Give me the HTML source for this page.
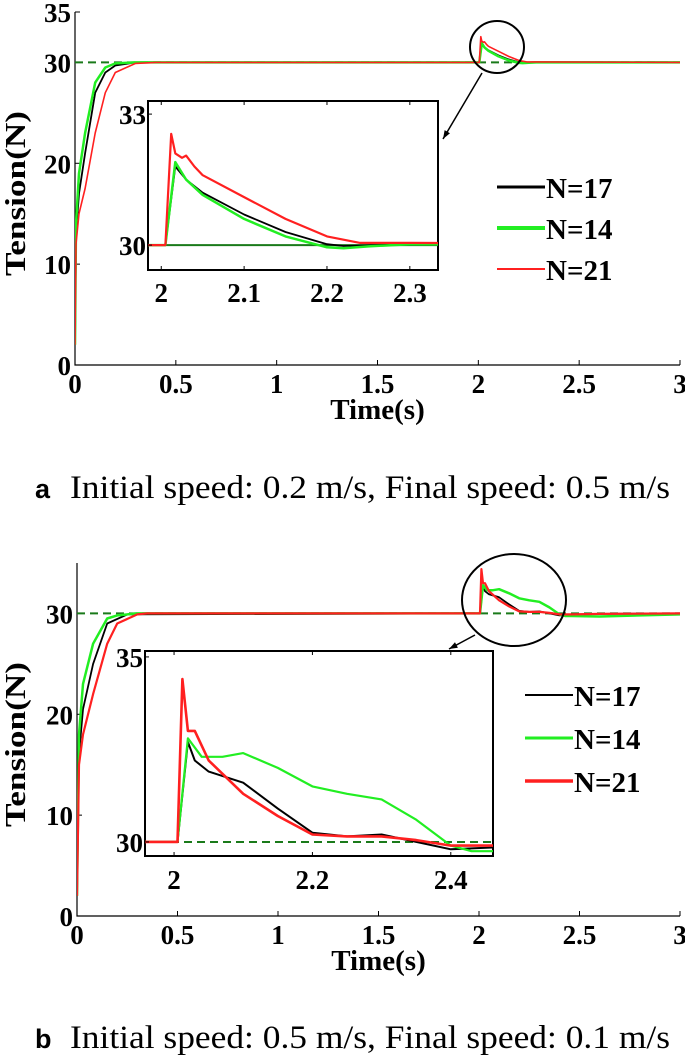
<!DOCTYPE html>
<html><head><meta charset="utf-8"><style>
body{margin:0;background:#fff;overflow:hidden}
svg{display:block}
text{font-family:"Liberation Serif",serif;fill:#000}
.tk{font-size:27px;font-weight:bold}
</style></head><body>
<svg id="s" width="685" height="1064" viewBox="0 0 685 1064" xmlns="http://www.w3.org/2000/svg">
<defs>
<clipPath id="cA"><rect x="148" y="101" width="290" height="169"/></clipPath>
<clipPath id="cB"><rect x="145" y="651" width="348" height="205"/></clipPath>
<clipPath id="mA"><rect x="75" y="0" width="606" height="366"/></clipPath>
<clipPath id="mB"><rect x="77" y="560" width="604" height="357"/></clipPath>
</defs>
<g id="root"></g>
<text x="35" y="498" style="font-family:'Liberation Sans',sans-serif;font-weight:bold;font-size:27px">a</text>
<text x="70" y="498" textLength="600" lengthAdjust="spacingAndGlyphs" style="font-size:33px">Initial speed: 0.2 m/s, Final speed: 0.5 m/s</text>
<text x="35" y="1048" style="font-family:'Liberation Sans',sans-serif;font-weight:bold;font-size:27px">b</text>
<text x="70" y="1048" textLength="600" lengthAdjust="spacingAndGlyphs" style="font-size:33px">Initial speed: 0.5 m/s, Final speed: 0.1 m/s</text>
</svg>
<script>
// ---- Panel A data ----
const aT17=[0,0.005,0.02,0.05,0.1,0.15,0.2,0.3,2.0,2.005,2.017,2.03,2.05,2.1,2.15,2.2,2.22,2.3,3];
const aV17=[2,13,17,21,27,29,29.7,30,30,30,31.8,31.5,31.2,30.7,30.3,30.02,29.98,30.02,30];
const aT14=[0,0.005,0.02,0.05,0.1,0.15,0.2,0.3,2.0,2.005,2.017,2.03,2.05,2.1,2.15,2.2,2.22,2.25,2.3,3];
const aV14=[2,14,19,23,28,29.5,29.9,30,30,30,31.9,31.5,31.15,30.6,30.2,29.95,29.93,29.97,30.02,30];
const aT21=[0,0.005,0.02,0.05,0.1,0.15,0.2,0.3,0.4,2.0,2.005,2.012,2.017,2.025,2.03,2.04,2.05,2.1,2.15,2.2,2.24,2.3,3];
const aV21=[2,12,15,17.5,23,27,29,29.9,30,30,30,32.55,32.1,32.0,32.05,31.8,31.6,31.1,30.6,30.2,30.05,30.05,30];
// ---- Panel B data ----
const bT17=[0,0.01,0.03,0.08,0.15,0.25,2.0,2.005,2.02,2.03,2.05,2.1,2.15,2.2,2.25,2.3,2.35,2.4,2.46,2.6,3];
const bV17=[2,16,20.5,25,29,29.9,30,30,32.7,32.2,31.9,31.6,30.9,30.25,30.15,30.2,30.0,29.8,29.85,29.95,30];
const bT14=[0,0.01,0.03,0.08,0.15,0.2,0.3,2.0,2.005,2.02,2.04,2.07,2.1,2.15,2.2,2.25,2.3,2.35,2.4,2.43,2.46,2.6,2.8,3];
const bV14=[2,18,23,27,29.5,29.8,30,30,30,32.8,32.3,32.3,32.4,32.0,31.5,31.3,31.15,30.6,29.9,29.75,29.75,29.7,29.8,29.9];
const bT21=[0,0.01,0.03,0.08,0.15,0.2,0.3,0.35,2.0,2.005,2.012,2.02,2.03,2.05,2.1,2.15,2.2,2.25,2.3,2.35,2.4,2.46,2.6,3];
const bV21=[2,15,18,22,27,29,29.9,30,30,30,34.4,33.0,33.0,32.2,31.3,30.7,30.2,30.15,30.15,30.05,29.9,29.9,29.95,30];
const mainXTicks=["0","0.5","1","1.5","2","2.5","3"];
const aYTicks=[0,10,20,30,35];
const bYTicks=[0,10,20,30];
const aInsetX=["2","2.1","2.2","2.3"];
const bInsetX=["2","2.2","2.4"];
const legendLabels=["N=17","N=14","N=21"];

const NS="http://www.w3.org/2000/svg";
const root=document.getElementById('root');
function mk(tag,attrs,parent){const e=document.createElementNS(NS,tag);for(const k in attrs)e.setAttribute(k,attrs[k]);(parent||root).appendChild(e);return e;}
function scale(d0,d1,r0,r1){return v=>r0+(v-d0)/(d1-d0)*(r1-r0);}
function line(T,V,sx,sy,color,w,clip,name){
  const p=mk('polyline',{points:T.map((t,i)=>sx(t).toFixed(1)+','+sy(V[i]).toFixed(1)).join(' '),fill:'none',stroke:color,'stroke-width':w,'clip-path':'url(#'+clip+')','stroke-linejoin':'round'});
  
  
}
function txt(x,y,s,cls,anchor,name,extra){
  const t=mk('text',Object.assign({x:x,y:y,'text-anchor':anchor||'middle'},extra||{}));
  if(cls)t.setAttribute('class',cls);t.textContent=s;
  
  
  return t;
}
function panel(P){
  const sx=scale(0,3,P.x0,P.x1), sy=scale(0,P.ymax,P.y0,P.ytop);
  const ax=mk('path',{d:`M${P.x0},${P.ytop} V${P.y0} H${P.x1}`,fill:'none',stroke:'#000','stroke-width':1.2});
  
  
  mainXTicks.forEach(s=>{const x=sx(+s);mk('line',{x1:x,x2:x,y1:P.y0,y2:P.y0-5,stroke:'#000'});txt(x,P.y0+28,s,'tk','middle',P.id+'-x-tick-'+s);});
  P.yt.forEach(v=>{const y=sy(v);mk('line',{x1:P.x0,x2:P.x0+5,y1:y,y2:y,stroke:'#000'});txt(P.x0-4,y+10,String(v),'tk','end',P.id+'-y-tick-'+v);});
  txt((P.x0+P.x1)/2,P.y0+54,'Time(s)','tk','middle',P.id+'-x-axis-title',{style:'font-size:29px'});
  txt(0,0,'Tension(N)','tk','middle',P.id+'-y-axis-title',{transform:`translate(25,${(P.y0+P.ytop)/2+5}) rotate(-90)`,style:'font-size:28px',textLength:'165',lengthAdjust:'spacingAndGlyphs'});
  const r=mk('line',{x1:P.x0,x2:P.x1,y1:sy(30),y2:sy(30),stroke:'#1a7a1a','stroke-width':2,'stroke-dasharray':'8,5'});
  
  
  P.series.forEach(s=>line(s.t,s.v,sx,sy,s.c,s.w,P.mclip,P.id+'-main-'+s.n));
  const I=P.inset;
  const ix=scale(I.xa,I.xb,I.l,I.r), iy=scale(I.ya,I.yb,I.b,I.t);
  const box=mk('rect',{x:I.l,y:I.t,width:I.r-I.l,height:I.b-I.t,fill:'#fff',stroke:'#000','stroke-width':2});
  
  
  const ir=mk('line',{x1:I.l,x2:I.r,y1:iy(30),y2:iy(30),stroke:'#1a7a1a','stroke-width':2,'stroke-dasharray':I.dash});
  
  
  P.series.forEach(s=>line(s.t,s.v,ix,iy,s.c,s.iw,I.clip,P.id+'-inset-'+s.n));
  I.xt.forEach(s=>{const x=ix(+s);mk('line',{x1:x,x2:x,y1:I.b,y2:I.b-4,stroke:'#000'});mk('line',{x1:x,x2:x,y1:I.t,y2:I.t+4,stroke:'#000'});txt(x,I.b+I.lblOff,s,'tk','middle',P.id+'-inset-x-tick-'+s);});
  I.yt.forEach(v=>{const y=iy(v);mk('line',{x1:I.l,x2:I.l+4,y1:y,y2:y,stroke:'#000'});txt(I.l-2,y+10,String(v),'tk','end',P.id+'-inset-y-tick-'+v);});
  const c=mk('ellipse',{cx:P.circ[0],cy:P.circ[1],rx:P.circ[2],ry:P.circ[3],fill:'none',stroke:'#000','stroke-width':2});
  
  
  const a=mk('path',{d:`M${P.arr[0]},${P.arr[1]} L${P.arr[2]},${P.arr[3]}`,stroke:'#000','stroke-width':1.5,fill:'none'});
  
  
  const ang=Math.atan2(P.arr[3]-P.arr[1],P.arr[2]-P.arr[0]);const hx=P.arr[2],hy=P.arr[3];
  mk('polygon',{points:`${hx},${hy} ${hx-9*Math.cos(ang-0.35)},${hy-9*Math.sin(ang-0.35)} ${hx-9*Math.cos(ang+0.35)},${hy-9*Math.sin(ang+0.35)}`,fill:'#000'});
  P.series.forEach((s,i)=>{const y=P.leg[1]+i*P.leg[2];
    const l=mk('line',{x1:P.leg[0],x2:P.leg[0]+48,y1:y,y2:y,stroke:s.c,'stroke-width':s.lw});
    
    
    txt(P.leg[0]+49,y+11,legendLabels[i],'tk','start',P.id+'-legend-label-'+s.n,{style:'font-size:29px'});});
}
panel({id:'a',x0:75,x1:680,y0:365,ytop:12,ymax:35,yt:aYTicks,mclip:'mA',
  series:[{n:'n17',t:aT17,v:aV17,c:'#000',w:1.8,iw:1.8,lw:3},{n:'n14',t:aT14,v:aV14,c:'#22ee22',w:2.5,iw:2.5,lw:4},{n:'n21',t:aT21,v:aV21,c:'#ff2020',w:1.6,iw:2.2,lw:2}],
  inset:{l:148,r:438,t:101,b:270,xa:1.984,xb:2.334,ya:29.43,yb:33.3,xt:aInsetX,yt:[30,33],clip:'cA',dash:'none',lblOff:32},
  circ:[497,47,27,26],arr:[482,73,443,139],leg:[497,187,41]});
panel({id:'b',x0:77,x1:680,y0:916,ytop:563,ymax:35,yt:bYTicks,mclip:'mB',
  series:[{n:'n17',t:bT17,v:bV17,c:'#000',w:1.8,iw:2,lw:2},{n:'n14',t:bT14,v:bV14,c:'#22ee22',w:2.5,iw:2.2,lw:3},{n:'n21',t:bT21,v:bV21,c:'#ff2020',w:2.2,iw:2.6,lw:3.5}],
  inset:{l:145,r:493,t:651,b:856,xa:1.958,xb:2.461,ya:29.62,yb:35.16,xt:bInsetX,yt:[30,35],clip:'cB',dash:'8,5',lblOff:33},
  circ:[514,600,52,46],arr:[475,635,449,649],leg:[525,695,43]});
</script>
</body></html>
